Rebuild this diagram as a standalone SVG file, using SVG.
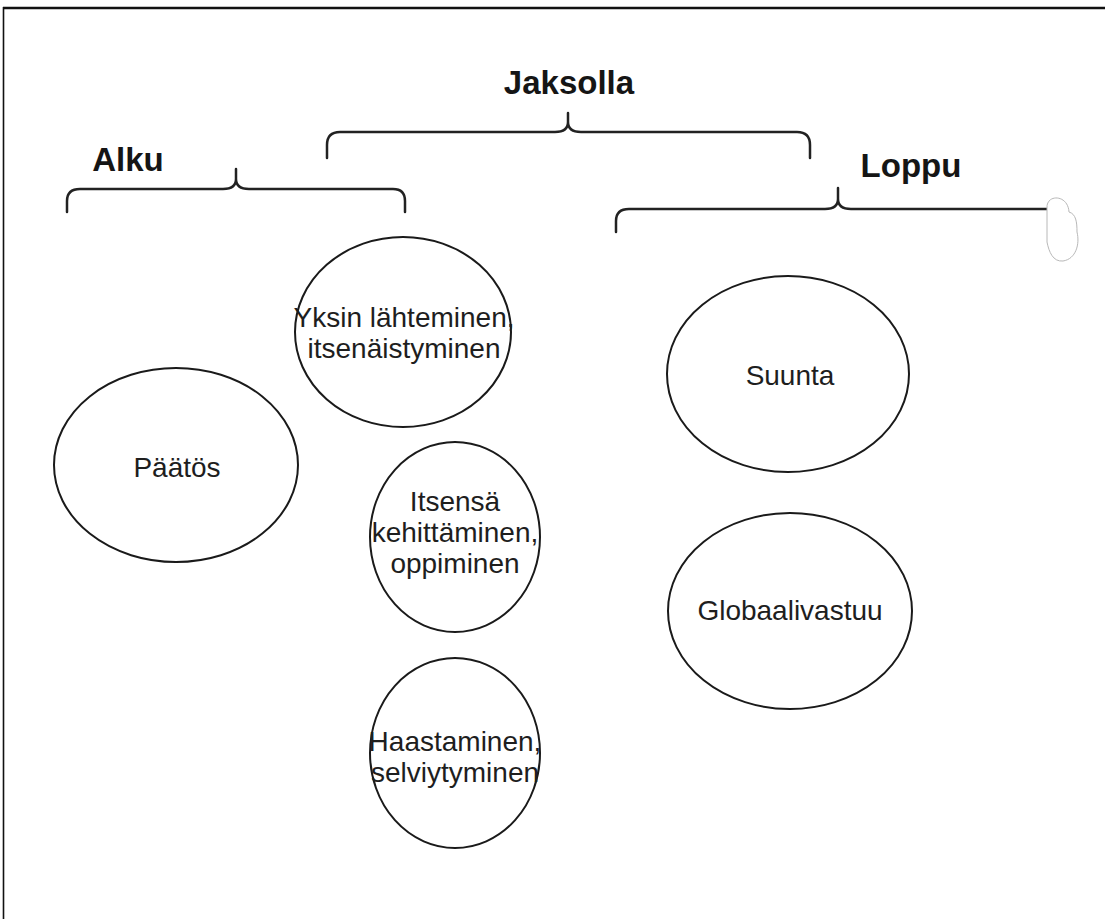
<svg xmlns="http://www.w3.org/2000/svg" width="1105" height="919" viewBox="0 0 1105 919">
<style>
.frame{stroke:#111;fill:none}
.brace{stroke:#222;stroke-width:2.5;fill:none;stroke-linecap:round;stroke-linejoin:round}
.node ellipse{fill:#fff;stroke:#1a1a1a;stroke-width:2}
.lbl{font-family:"Liberation Sans",Arial,sans-serif;font-size:28px;fill:#1e1e1e;text-anchor:middle}
.head{font-family:"Liberation Sans",Arial,sans-serif;font-size:33px;font-weight:bold;fill:#151515;text-anchor:middle}
</style>
<rect width="1105" height="919" fill="#fff"/>
<g id="frame">
<line class="frame" x1="3" y1="8" x2="1105" y2="8" stroke-width="2.5"/>
<line class="frame" x1="3.5" y1="7" x2="3.5" y2="919" stroke-width="1.6"/>
</g>
<g id="connectors">
<path class="brace" d="M67,212 V201 Q67,189 80,189 H223 Q236,189 236,179 V169 M236,179 Q236,189 249,189 H393 Q405,189 405,201 V212"/>
<path class="brace" d="M327,158 V145 Q327,132 340,132 H555 Q568,132 568,122 V113 M568,122 Q568,132 581,132 H797 Q810,132 810,145 V158"/>
<path class="brace" d="M616,232 V221 Q616,209 629,209 H825 Q838,209 838,199 V188 M838,199 Q838,209 851,209 H1050"/>
<path d="M1047,208 C1046,194 1068,194 1069,212 C1076,214 1077,222 1077,232 C1080,244 1076,259 1063,261 C1053,262 1049,252 1047,242 Z" fill="#fff" stroke="#b8b8b8" stroke-width="1"/>
</g>
<g id="heading-alku"><text class="head" x="128" y="171">Alku</text></g>
<g id="heading-jaksolla"><text class="head" x="569" y="94">Jaksolla</text></g>
<g id="heading-loppu"><text class="head" x="911" y="177">Loppu</text></g>
<g id="node-yksin" class="node">
<ellipse cx="403" cy="332" rx="108" ry="95"/>
<text class="lbl" x="404" y="327">Yksin lähteminen,</text>
<text class="lbl" x="404" y="358">itsenäistyminen</text>
</g>
<g id="node-paatos" class="node">
<ellipse cx="176" cy="465" rx="122" ry="97"/>
<text class="lbl" x="177" y="477">Päätös</text>
</g>
<g id="node-itsensa" class="node">
<ellipse cx="455" cy="537" rx="85" ry="95"/>
<text class="lbl" x="455" y="511">Itsensä</text>
<text class="lbl" x="455" y="542">kehittäminen,</text>
<text class="lbl" x="455" y="573">oppiminen</text>
</g>
<g id="node-haastaminen" class="node">
<ellipse cx="455" cy="753" rx="85" ry="95"/>
<text class="lbl" x="455" y="751">Haastaminen,</text>
<text class="lbl" x="455" y="782">selviytyminen</text>
</g>
<g id="node-suunta" class="node">
<ellipse cx="788" cy="374" rx="121" ry="98"/>
<text class="lbl" x="790" y="385">Suunta</text>
</g>
<g id="node-globaali" class="node">
<ellipse cx="790" cy="611" rx="122" ry="98"/>
<text class="lbl" x="790" y="620">Globaalivastuu</text>
</g>
</svg>
